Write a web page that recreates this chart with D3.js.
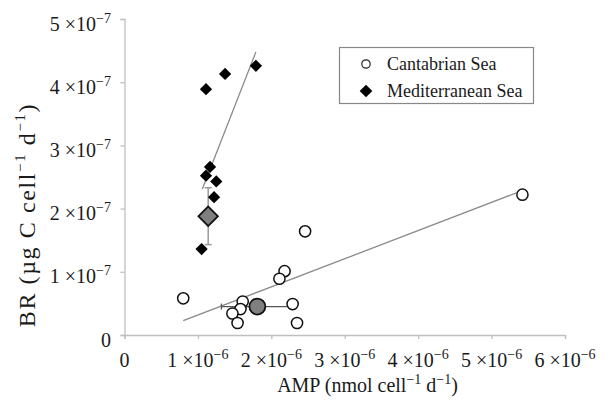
<!DOCTYPE html>
<html><head><meta charset="utf-8">
<script src="https://cdn.jsdelivr.net/npm/d3@7/dist/d3.min.js"></script>
<style>body{margin:0;background:#fff}svg{display:block}</style>
</head><body><svg id="c" width="614" height="409" font-family="'Liberation Serif', 'Times New Roman', 'DejaVu Serif', serif"></svg>
<script>
// Data (AMP in units of 1e-6, BR in units of 1e-7)
const cantAMP = [0.80, 2.18, 2.11, 1.61, 1.58, 1.47, 1.54, 2.29, 2.35, 2.46, 5.42];
const cantBR  = [0.58, 1.01, 0.89, 0.53, 0.41, 0.34, 0.19, 0.49, 0.19, 1.64, 2.22];
const medAMP  = [1.05, 1.11, 1.37, 1.79, 1.165, 1.11, 1.25, 1.22];
const medBR   = [1.36, 3.89, 4.13, 4.26, 2.66, 2.52, 2.43, 2.18];
const cantMean = [1.81, 0.45], cantMeanErrX = [1.32, 2.29];
const medMean  = [1.14, 1.88], medMeanErrY = [1.43, 2.33];
const cantFitX = [0.80, 5.34], cantFitY = [0.226, 2.25];
const medFitX  = [1.06, 1.79], medFitY  = [2.31, 4.48];
const xTicks = [0,1,2,3,4,5,6], yTicks = [0,1,2,3,4,5];
const seriesNames = ["Cantabrian Sea", "Mediterranean Sea"];

const FONT = "'Liberation Serif', 'Times New Roman', 'DejaVu Serif', serif";
const svg = d3.select("#c");
const x = d3.scaleLinear().domain([0,6e-6]).range([124.5,565]);
const y = d3.scaleLinear().domain([0,5e-7]).range([335,19]);
const axisCol = "#c0c0c0";
const txtCol = "#1a1a1a";

// axes
const gx = svg.append("g").attr("transform","translate(0,335)")
  .call(d3.axisBottom(x).tickValues(xTicks.map(d=>d*1e-6)).tickSize(4).tickFormat(""));
const gy = svg.append("g").attr("transform","translate(124.5,0)")
  .call(d3.axisLeft(y).tickValues(yTicks.map(d=>d*1e-7)).tickSize(4).tickFormat(""));
[gx,gy].forEach(g=>{g.select(".domain").attr("stroke",axisCol).attr("stroke-width",1.3);
  g.selectAll(".tick line").attr("stroke",axisCol).attr("stroke-width",1.3);});

function sciLabel(sel, v, exp){
  if(v===0){ sel.append("tspan").text("0"); return; }
  sel.append("tspan").text(v+" \u00d710");
  sel.append("tspan").attr("font-size","14px").attr("dy","-8").text("\u2212"+exp);
}
xTicks.forEach(v=>{
  const t = svg.append("text").attr("x",x(v*1e-6)).attr("y",367).attr("font-family",FONT)
    .attr("text-anchor","middle").attr("font-size","20px").attr("fill",txtCol);
  sciLabel(t,v,6);
});
yTicks.forEach(v=>{
  const t = svg.append("text").attr("x",111).attr("y",y(v*1e-7)+11.5).attr("font-family",FONT)
    .attr("text-anchor","end").attr("font-size","20px").attr("fill",txtCol);
  sciLabel(t,v,7);
});

// titles
const xt = svg.append("text").attr("x",367.5).attr("y",392).attr("text-anchor","middle").attr("font-family",FONT)
  .attr("font-size","20px").attr("fill",txtCol);
xt.append("tspan").text("AMP (nmol cell");
xt.append("tspan").attr("font-size","14px").attr("dy","-8").text("\u22121");
xt.append("tspan").attr("dy","8").text(" d");
xt.append("tspan").attr("font-size","14px").attr("dy","-8").text("\u22121");
xt.append("tspan").attr("dy","8").text(")");

const yt = svg.append("text").attr("transform","translate(35,215) rotate(-90)").attr("text-anchor","middle").attr("font-family",FONT)
  .attr("font-size","24px").attr("fill",txtCol).attr("letter-spacing","1.6px");
yt.append("tspan").text("BR (\u00b5g C cell");
yt.append("tspan").attr("font-size","15px").attr("dy","-10").text("\u22121");
yt.append("tspan").attr("dy","10").text(" d");
yt.append("tspan").attr("font-size","15px").attr("dy","-10").text("\u22121");
yt.append("tspan").attr("dy","10").text(")");

// fit lines
const lineCol = "#8a8a8a";
svg.append("line").attr("x1",x(cantFitX[0]*1e-6)).attr("y1",y(cantFitY[0]*1e-7))
  .attr("x2",x(cantFitX[1]*1e-6)).attr("y2",y(cantFitY[1]*1e-7)).attr("stroke",lineCol).attr("stroke-width",1.3);
svg.append("line").attr("x1",x(medFitX[0]*1e-6)).attr("y1",y(medFitY[0]*1e-7))
  .attr("x2",x(medFitX[1]*1e-6)).attr("y2",y(medFitY[1]*1e-7)).attr("stroke",lineCol).attr("stroke-width",1.3);

// error bars
const errCol = "#999";
const cy0 = y(cantMean[1]*1e-7);
svg.append("line").attr("x1",x(cantMeanErrX[0]*1e-6)).attr("x2",x(cantMeanErrX[1]*1e-6))
  .attr("y1",cy0).attr("y2",cy0).attr("stroke","#555").attr("stroke-width",1.3);
svg.append("line").attr("x1",x(cantMeanErrX[0]*1e-6)).attr("x2",x(cantMeanErrX[0]*1e-6))
  .attr("y1",cy0-3).attr("y2",cy0+3).attr("stroke","#555").attr("stroke-width",1.3);
const mx0 = x(medMean[0]*1e-6);
svg.append("line").attr("x1",mx0).attr("x2",mx0)
  .attr("y1",y(medMeanErrY[0]*1e-7)).attr("y2",y(medMeanErrY[1]*1e-7)).attr("stroke",errCol).attr("stroke-width",1.5);
medMeanErrY.forEach(v=>svg.append("line").attr("x1",mx0-3.5).attr("x2",mx0+3.5)
  .attr("y1",y(v*1e-7)).attr("y2",y(v*1e-7)).attr("stroke",errCol).attr("stroke-width",1.5));

// points
svg.append("g").selectAll("path").data(medAMP.map((d,i)=>[d,medBR[i]])).join("path")
  .attr("d", d3.symbol().type(d3.symbolSquare).size(75)())
  .attr("transform",d=>`translate(${x(d[0]*1e-6)},${y(d[1]*1e-7)}) rotate(45)`)
  .attr("fill","#000");
svg.append("g").selectAll("circle").data(cantAMP.map((d,i)=>[d,cantBR[i]])).join("circle")
  .attr("cx",d=>x(d[0]*1e-6)).attr("cy",d=>y(d[1]*1e-7)).attr("r",5.6)
  .attr("fill","#fff").attr("stroke","#111").attr("stroke-width",1.5);

// means
svg.append("path").attr("d", d3.symbol().type(d3.symbolSquare).size(190)())
  .attr("transform",`translate(${mx0},${y(medMean[1]*1e-7)}) rotate(45)`)
  .attr("fill","#7f7f7f").attr("stroke","#111").attr("stroke-width",1.8);
svg.append("circle").attr("cx",x(cantMean[0]*1e-6)).attr("cy",cy0).attr("r",8)
  .attr("fill","#7f7f7f").attr("stroke","#111").attr("stroke-width",1.8);

// legend
const lg = svg.append("g");
lg.append("rect").attr("x",339.5).attr("y",47.5).attr("width",194).attr("height",56)
  .attr("fill","#fff").attr("stroke","#888").attr("stroke-width",1.2);
lg.append("circle").attr("cx",366).attr("cy",64).attr("r",4.2).attr("fill","#fff").attr("stroke","#222").attr("stroke-width",1.2);
lg.append("path").attr("d", d3.symbol().type(d3.symbolSquare).size(80)())
  .attr("transform","translate(366,91) rotate(45)").attr("fill","#000");
seriesNames.forEach((n,i)=>lg.append("text").attr("x",387).attr("y",70+i*27).attr("font-family",FONT)
  .attr("font-size","18px").attr("fill",txtCol).text(n));
</script></body></html>
